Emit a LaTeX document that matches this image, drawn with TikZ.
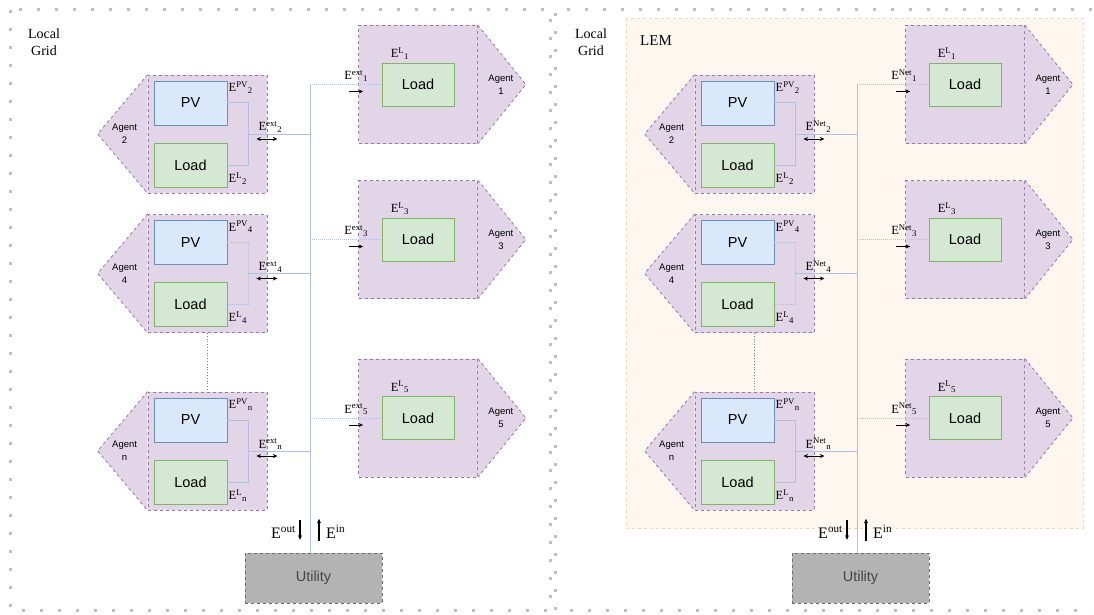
\documentclass[tikz,border=0pt]{standalone}
\usepackage{fontspec}
\setmainfont{Liberation Serif}
\setsansfont{Liberation Sans}
\usetikzlibrary{arrows.meta,positioning}

\definecolor{agentfill}{RGB}{225,213,231}
\definecolor{agentline}{RGB}{150,120,160}
\definecolor{pvfill}{RGB}{218,232,252}
\definecolor{pvline}{RGB}{108,142,191}
\definecolor{loadfill}{RGB}{213,232,212}
\definecolor{loadline}{RGB}{130,179,102}
\definecolor{busline}{RGB}{176,192,222}
\definecolor{utilfill}{RGB}{179,179,179}
\definecolor{utilline}{RGB}{110,110,110}
\definecolor{utiltext}{RGB}{70,70,70}
\definecolor{lemfill}{RGB}{254,247,240}
\definecolor{lemline}{RGB}{244,214,184}
\definecolor{dotgray}{RGB}{190,190,190}

\begin{document}
\begin{tikzpicture}[x=1pt, y=-1pt, >=Stealth,
    panel/.style={draw=dotgray, line width=3pt, dash pattern=on 3pt off 15pt},
    agentbox/.style={draw=agentline, dashed, line width=0.8pt, fill=agentfill, minimum width=119pt, minimum height=118pt, inner sep=0pt},
    agentedge/.style={draw=agentline, dashed, line width=0.8pt},
    pvbox/.style={draw=pvline, fill=pvfill, line width=0.9pt, minimum width=73pt, minimum height=44pt, inner sep=0pt, font=\sffamily\fontsize{14.5}{16}\selectfont},
    loadbox/.style={pvbox, draw=loadline, fill=loadfill},
    utilbox/.style={draw=utilline, dashed, fill=utilfill, minimum width=137pt, minimum height=50pt, inner sep=0pt, text=utiltext, font=\sffamily\fontsize{14.5}{16}\selectfont},
    aglab/.style={font=\sffamily\fontsize{9.5}{13}\selectfont, align=center, inner sep=0pt},
    titlelab/.style={font=\fontsize{14}{17}\selectfont, align=center, inner sep=0pt},
    elab/.style={font=\fontsize{12.5}{14}\selectfont, inner sep=0pt},
    biglab/.style={font=\fontsize{16}{18}\selectfont, inner sep=0pt},
    bus/.style={draw=busline, line width=1pt},
    busdot/.style={draw=busline, line width=1pt, densely dotted},
    flow/.style={-{Stealth[length=4.5pt,width=4pt]}, line width=0.9pt},
    dflow/.style={{Stealth[length=4.5pt,width=4pt]}-{Stealth[length=4.5pt,width=4pt]}, line width=0.9pt}]
  \useasboundingbox (0,0) rectangle (1094,615);

  % grid borders
  \draw[panel] (10,10) rectangle (550,610);
  \draw[panel] (1092,10) -- (555,10) -- (555,610) -- (1092,610);

  % market area
  \draw[lemline, dashed, fill=lemfill] (626,18) rectangle (1083,528);
  \node[titlelab, font=\fontsize{15}{17}\selectfont] (lemlab) at (656,41) {LEM};

  \node[titlelab] (gridl) at (44,42) {Local\\Grid};
  \node[titlelab] (gridr) at (591,42) {Local\\Grid};

  \foreach \pn/\et/\dx in {l/ext/0, r/Net/547}{
  \begin{scope}[xshift=\dx]
    \coordinate (bus\pn) at (310,84.5);
    \node[utilbox] (util\pn) at (313.5,578) {Utility};
    \coordinate (busend\pn) at (bus\pn |- util\pn.north);
    \draw[bus] (bus\pn) -- (busend\pn);

    % prosumers
    \foreach \k/\cy/\ls in {2/134/solid, 4/273.5/densely dotted, n/451/solid}{
      \node[agentbox] (a\k\pn) at (207.5,\cy) {};
      \fill[agentfill] (a\k\pn.north west) -- ([xshift=-50pt]a\k\pn.west) -- (a\k\pn.south west) -- cycle;
      \draw[agentedge] (a\k\pn.north west) -- ([xshift=-50pt]a\k\pn.west) -- (a\k\pn.south west);
      \node[aglab] (t\k\pn) at ([xshift=-23pt]a\k\pn.west) {Agent\\\k};
      \node[pvbox] (pv\k\pn) at ([shift={(-17,-31)}]a\k\pn.center) {PV};
      \node[loadbox] (ld\k\pn) at ([shift={(-17,31)}]a\k\pn.center) {Load};
      \coordinate (j\k\pn) at ([xshift=21pt]pv\k\pn.east);
      \draw[bus, \ls] (pv\k\pn.east) -- (j\k\pn) |- (ld\k\pn.east);
      \draw[bus] (j\k\pn |- a\k\pn.center) -- (bus\pn |- a\k\pn.center);
      \draw[dflow] ([shift={(-11,5)}]a\k\pn.east) -- ([shift={(10,5)}]a\k\pn.east);
      \node[elab, anchor=base west] (epv\k\pn) at ([shift={(1,11)}]pv\k\pn.north east) {E\textsuperscript{PV}\textsubscript{\k}};
      \node[elab, anchor=base west] (el\k\pn) at ([shift={(1,-5)}]ld\k\pn.south east) {E\textsuperscript{L}\textsubscript{\k}};
      \node[elab, anchor=base west] (ee\k\pn) at ([shift={(-9,-3)}]a\k\pn.east) {E\textsuperscript{\et}\textsubscript{\k}};
    }

    % consumers
    \foreach \k/\cy in {1/84.5, 3/239.5, 5/418}{
      \node[agentbox] (a\k\pn) at (418,\cy) {};
      \fill[agentfill] (a\k\pn.north east) -- ([xshift=48pt]a\k\pn.east) -- (a\k\pn.south east) -- cycle;
      \draw[agentedge] (a\k\pn.north east) -- ([xshift=48pt]a\k\pn.east) -- (a\k\pn.south east);
      \node[aglab] (t\k\pn) at ([xshift=23pt]a\k\pn.east) {Agent\\\k};
      \node[loadbox, minimum width=72pt, minimum height=43pt] (ld\k\pn) at (a\k\pn.center) {Load};
      \draw[busdot] (bus\pn |- ld\k\pn.west) -- (ld\k\pn.west);
      \draw[flow] ([shift={(-9,7)}]a\k\pn.west) -- ([shift={(5,7)}]a\k\pn.west);
      \node[elab, anchor=base west] (ee\k\pn) at ([shift={(-14,-5)}]a\k\pn.west) {E\textsuperscript{\et}\textsubscript{\k}};
      \node[elab, anchor=base west] (el\k\pn) at ([shift={(9,-5)}]ld\k\pn.north west) {E\textsuperscript{L}\textsubscript{\k}};
    }

    \draw[gray, dotted, thick] (a4\pn.south) -- (an\pn.north);

    % exchange with utility
    \draw[flow, line width=1.1pt] ([shift={(-10,-33)}]busend\pn) -- ([shift={(-10,-13)}]busend\pn);
    \draw[flow, line width=1.1pt] ([shift={(9,-12)}]busend\pn) -- ([shift={(9,-34)}]busend\pn);
    \node[biglab, anchor=base east] (eout\pn) at ([shift={(-14,-14)}]busend\pn) {E\textsuperscript{out}};
    \node[biglab, anchor=base west] (ein\pn) at ([shift={(16,-14)}]busend\pn) {E\textsuperscript{in}};
  \end{scope}
  }
\end{tikzpicture}
\end{document}
